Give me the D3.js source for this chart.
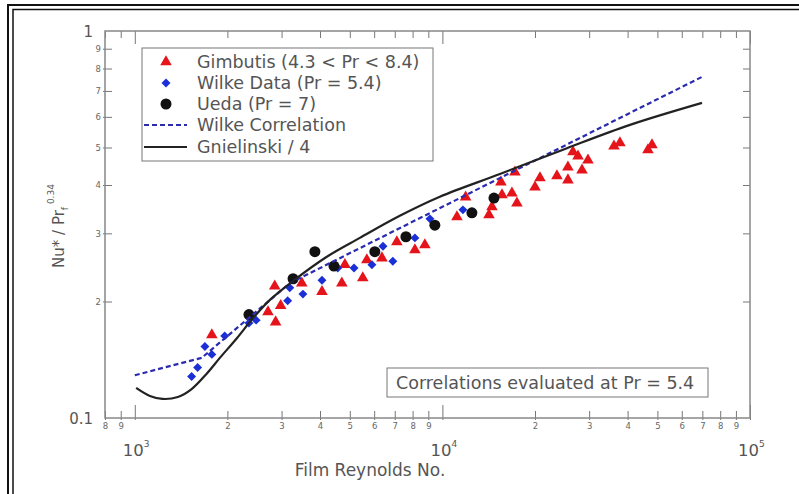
<!DOCTYPE html>
<html>
<head>
<meta charset="utf-8">
<script src="https://cdn.jsdelivr.net/npm/d3@7"></script>
<style>
body { margin: 0; background: #fff; }
svg { display: block; font-family: "DejaVu Sans", sans-serif; }
</style>
</head>
<body>
<script>
// Gimbutis (4.3 < Pr < 8.4)
var gimbutisRe = [1780, 2850, 2710, 2980, 2870, 3490, 4060, 4710, 4820, 5510, 5680, 6360, 7110, 8140, 8770,
  11150, 11900, 14170, 14490, 15500, 15620, 16830, 17470, 17210, 20000, 20760, 23570, 25590, 25590,
  26570, 27590, 28430, 29730, 36120, 37770, 46590, 48010];
var gimbutisNu = [0.164, 0.219, 0.188, 0.195, 0.177, 0.223, 0.212, 0.223, 0.249, 0.230, 0.256, 0.259, 0.285, 0.272, 0.280,
  0.331, 0.372, 0.335, 0.351, 0.407, 0.377, 0.381, 0.359, 0.432, 0.395, 0.417, 0.422, 0.412, 0.445,
  0.487, 0.475, 0.437, 0.464, 0.504, 0.514, 0.493, 0.508];

// Wilke data (Pr = 5.4)
var wilkeRe = [1530, 1600, 1690, 1780, 1960, 2350, 2480, 3190, 3140, 3520, 4060, 4570, 5160, 5900, 6410, 6900, 8140, 9110, 11660];
var wilkeNu = [0.128, 0.135, 0.153, 0.146, 0.163, 0.176, 0.179, 0.217, 0.201, 0.209, 0.227, 0.244, 0.244, 0.249, 0.278, 0.254, 0.292, 0.327, 0.345];

// Ueda (Pr = 7)
var uedaRe = [2350, 3270, 3850, 4440, 6030, 7610, 9450, 12470, 14710];
var uedaNu = [0.185, 0.229, 0.269, 0.247, 0.269, 0.294, 0.315, 0.339, 0.370];

// Wilke correlation and Gnielinski / 4
var wilkeCorrRe = [1000, 1650, 3190, 69800];
var wilkeCorrNu = [0.129, 0.143, 0.223, 0.761];
var gnielRe = [1010, 1120, 1230, 1380, 1530, 1710, 1890, 2150, 2420, 2750, 3270, 4210, 5390, 7270, 9810, 15380, 25410, 40720, 69820];
var gnielNu = [0.1196, 0.114, 0.112, 0.1133, 0.1188, 0.130, 0.143, 0.161, 0.181, 0.202, 0.226, 0.261, 0.292, 0.333, 0.373, 0.427, 0.498, 0.572, 0.652];

var xMinor = [800, 900, 2000, 3000, 4000, 5000, 6000, 7000, 8000, 9000, 20000, 30000, 40000, 50000, 60000, 70000, 80000, 90000];
var xMajor = [1000, 10000, 100000];
var xMajorExp = ['3', '4', '5'];
var yMinor = [0.2, 0.3, 0.4, 0.5, 0.6, 0.7, 0.8, 0.9];
var yMajorLabels = ['0.1', '1'];
var legendNames = ['Gimbutis (4.3 < Pr < 8.4)', 'Wilke Data (Pr = 5.4)', 'Ueda (Pr = 7)', 'Wilke Correlation', 'Gnielinski / 4'];

var W = 799, H = 494;
var svg = d3.select('body').append('svg').attr('width', W).attr('height', H);

// double frame round the figure
svg.append('rect').attr('x', 8).attr('y', 5).attr('width', W).attr('height', H)
  .attr('fill', 'none').attr('stroke', '#111').attr('stroke-width', 2);
svg.append('rect').attr('x', 13).attr('y', 9.5).attr('width', W).attr('height', H)
  .attr('fill', 'none').attr('stroke', '#111').attr('stroke-width', 1.5);

var x = d3.scaleLog().domain([800, 100000]).range([105, 750]);
var y = d3.scaleLog().domain([0.1, 1]).range([418, 31]);

function digit(d) {
  return String(Math.round(d / Math.pow(10, Math.floor(Math.log10(d) + 1e-9))));
}

function styleAxis(g) {
  g.select('.domain').remove();
  g.selectAll('line').attr('stroke', '#777').attr('stroke-width', 1);
  g.selectAll('text').attr('fill', '#666').attr('font-size', 8.5).attr('font-family', '"DejaVu Sans", sans-serif');
}

// bottom axis
var gb = svg.append('g').attr('transform', 'translate(0,418)')
  .call(d3.axisBottom(x).tickValues(xMinor).tickSize(-7).tickPadding(5).tickFormat(digit));
styleAxis(gb);
gb.selectAll('line').attr('y1', 2);
var gb2 = svg.append('g').attr('transform', 'translate(0,418)')
  .call(d3.axisBottom(x).tickValues(xMajor).tickSize(-13).tickFormat(''));
styleAxis(gb2);
gb2.selectAll('line').attr('y1', 2);

// top axis
var gt = svg.append('g').attr('transform', 'translate(0,31)')
  .call(d3.axisTop(x).tickValues(xMinor).tickSize(-7).tickFormat(''));
styleAxis(gt);
var gt2 = svg.append('g').attr('transform', 'translate(0,31)')
  .call(d3.axisTop(x).tickValues(xMajor).tickSize(-13).tickFormat(''));
styleAxis(gt2);

// left and right axes
var gl = svg.append('g').attr('transform', 'translate(105,0)')
  .call(d3.axisLeft(y).tickValues(yMinor).tickSize(-7).tickPadding(4).tickFormat(digit));
styleAxis(gl);
gl.selectAll('line').attr('x1', -2);
var gr = svg.append('g').attr('transform', 'translate(750,0)')
  .call(d3.axisRight(y).tickValues(yMinor).tickSize(-7).tickFormat(''));
styleAxis(gr);

// plot frame
svg.append('rect').attr('x', 105).attr('y', 31).attr('width', 645).attr('height', 387)
  .attr('fill', 'none').attr('stroke', '#888').attr('stroke-width', 1.5);

// decade labels
svg.selectAll('text.decade').data(xMajor).enter().append('text')
  .attr('class', 'decade')
  .attr('x', d => x(d) - 12).attr('y', 456)
  .attr('font-size', 16.5).attr('fill', '#555')
  .text('10')
  .append('tspan').attr('dy', -9).attr('font-size', 9)
  .text((d, i) => xMajorExp[i]);

svg.selectAll('text.ymajor').data([0.1, 1]).enter().append('text')
  .attr('class', 'ymajor')
  .attr('x', 93).attr('y', d => y(d) + 6)
  .attr('text-anchor', 'end').attr('font-size', 15).attr('fill', '#555')
  .text((d, i) => yMajorLabels[i]);

// axis titles
svg.append('text').attr('x', 370).attr('y', 476).attr('text-anchor', 'middle')
  .attr('font-size', 17).attr('fill', '#555').text('Film Reynolds No.');

var yl = svg.append('text').attr('transform', 'translate(64,226) rotate(-90)')
  .attr('text-anchor', 'middle').attr('font-size', 15).attr('fill', '#555');
yl.append('tspan').text('Nu* / Pr');
yl.append('tspan').attr('font-size', 9).attr('dy', 4).text('f');
yl.append('tspan').attr('font-size', 9).attr('dy', -14).text(' 0.34');

// markers
var plot = svg.append('g');
var triangle = d3.symbol().type(d3.symbolTriangle).size(58);
var diamond = d3.symbol().type(d3.symbolSquare).size(40);

plot.selectAll('path.gimbutis').data(gimbutisRe).enter().append('path')
  .attr('class', 'gimbutis')
  .attr('transform', (d, i) => 'translate(' + x(d) + ',' + y(gimbutisNu[i]) + ')')
  .attr('d', triangle).attr('fill', '#e5141b');

plot.selectAll('path.wilke').data(wilkeRe).enter().append('path')
  .attr('class', 'wilke')
  .attr('transform', (d, i) => 'translate(' + x(d) + ',' + y(wilkeNu[i]) + ') rotate(45)')
  .attr('d', diamond).attr('fill', '#1a2fd6');

plot.selectAll('circle.ueda').data(uedaRe).enter().append('circle')
  .attr('class', 'ueda')
  .attr('cx', d => x(d)).attr('cy', (d, i) => y(uedaNu[i]))
  .attr('r', 5.5).attr('fill', '#111');

// correlation curves
var wilkeLine = d3.line().x(d => x(d)).y((d, i) => y(wilkeCorrNu[i]));
plot.append('path').attr('d', wilkeLine(wilkeCorrRe))
  .attr('fill', 'none').attr('stroke', '#2b2bb0').attr('stroke-width', 2.2).attr('stroke-dasharray', '5,3');

var gnielLine = d3.line().x(d => x(d)).y((d, i) => y(gnielNu[i])).curve(d3.curveCatmullRom);
plot.append('path').attr('d', gnielLine(gnielRe))
  .attr('fill', 'none').attr('stroke', '#222').attr('stroke-width', 2.2);

// legend
var lg = svg.append('g');
lg.append('rect').attr('x', 142).attr('y', 48).attr('width', 291).attr('height', 113)
  .attr('fill', '#fff').attr('stroke', '#777').attr('stroke-width', 1);
var rowY = [62, 83, 104, 125, 147];
lg.selectAll('text').data(legendNames).enter().append('text')
  .attr('x', 197).attr('y', (d, i) => rowY[i] + 6)
  .attr('font-size', 17.5).attr('fill', '#555')
  .text(d => d);
lg.append('path').attr('transform', 'translate(166,' + rowY[0] + ')').attr('d', triangle).attr('fill', '#e5141b');
lg.append('path').attr('transform', 'translate(166,' + rowY[1] + ') rotate(45)').attr('d', diamond).attr('fill', '#1a2fd6');
lg.append('circle').attr('cx', 166).attr('cy', rowY[2]).attr('r', 5.5).attr('fill', '#111');
lg.append('line').attr('x1', 144).attr('x2', 187).attr('y1', rowY[3]).attr('y2', rowY[3])
  .attr('stroke', '#2b2bb0').attr('stroke-width', 2.2).attr('stroke-dasharray', '5,3');
lg.append('line').attr('x1', 144).attr('x2', 187).attr('y1', rowY[4]).attr('y2', rowY[4])
  .attr('stroke', '#222').attr('stroke-width', 2.2);

// note box
svg.append('rect').attr('x', 387).attr('y', 368).attr('width', 321).attr('height', 29)
  .attr('fill', '#fff').attr('stroke', '#777').attr('stroke-width', 1);
svg.append('text').attr('x', 396).attr('y', 389).attr('font-size', 17.5).attr('fill', '#555')
  .text('Correlations evaluated at Pr = 5.4');
</script>
</body>
</html>
